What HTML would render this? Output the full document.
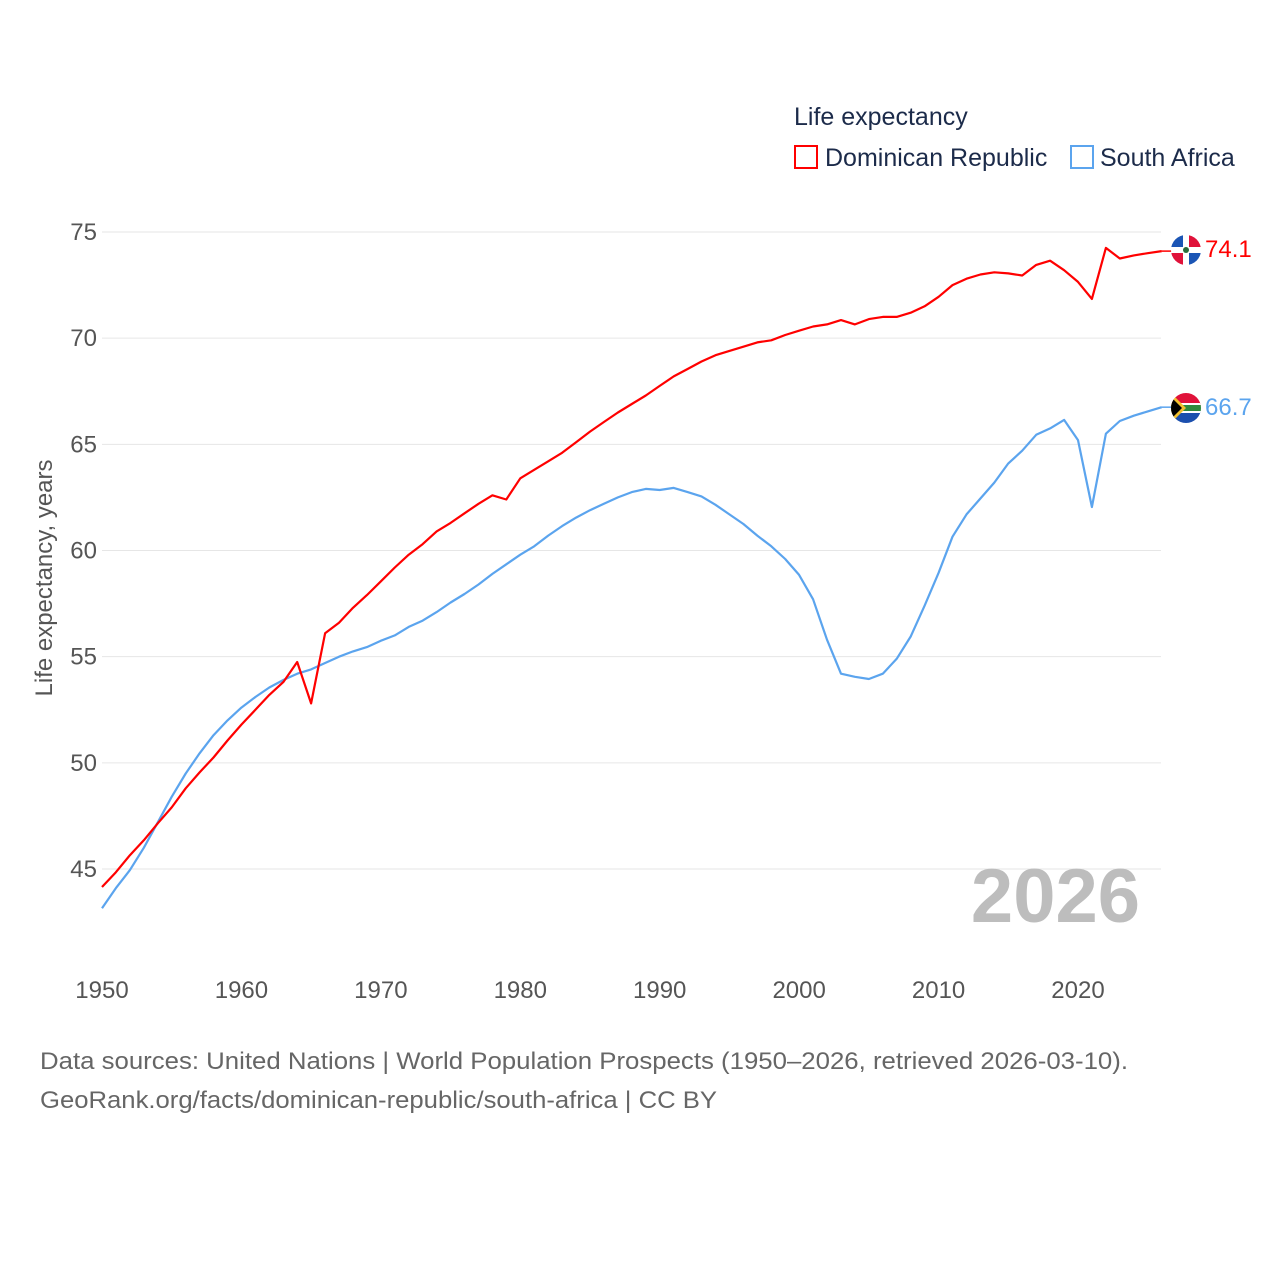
<!DOCTYPE html>
<html><head><meta charset="utf-8"><style>
body{margin:0;background:#fff;font-family:"Liberation Sans",sans-serif}
svg{display:block}
</style></head><body>
<svg width="1280" height="1280" viewBox="0 0 1280 1280">
<g id="grid"></g>
<g id="yticks"></g>
<g id="xticks"></g>
<text x="52" y="578" transform="rotate(-90 52 578)" text-anchor="middle" font-size="24" fill="#555">Life expectancy, years</text>
<text x="1140" y="922" text-anchor="end" font-size="76" font-weight="bold" fill="#bdbdbd">2026</text>
<g id="series"></g>
<g>
<text x="794" y="125" font-size="25" fill="#1c2b4a">Life expectancy</text>
<g>
<rect x="795" y="146" width="22" height="22" fill="none" stroke="#ff0000" stroke-width="2"/>
<text x="825" y="166" font-size="25" fill="#1c2b4a">Dominican Republic</text></g>
<g>
<rect x="1071" y="146" width="22" height="22" fill="none" stroke="#5ba4ee" stroke-width="2"/>
<text x="1100" y="166" font-size="25" fill="#1c2b4a">South Africa</text></g>
</g>
<g>
<clipPath id="c1"><circle cx="1186" cy="250" r="15"/></clipPath>
<g clip-path="url(#c1)"><rect x="1171" y="235" width="30" height="30" fill="#fff"/>
<rect x="1171" y="235" width="12" height="12" fill="#1b55b5"/><rect x="1189" y="235" width="12" height="12" fill="#e0123a"/>
<rect x="1171" y="253" width="12" height="12" fill="#e0123a"/><rect x="1189" y="253" width="12" height="12" fill="#1b55b5"/>
<circle cx="1186" cy="250" r="3" fill="#2a6b3a"/></g></g>
<g>
<clipPath id="c2"><circle cx="1186" cy="408" r="15"/></clipPath>
<g clip-path="url(#c2)"><rect x="1171" y="393" width="30" height="15" fill="#e0123a"/>
<rect x="1171" y="408" width="30" height="15" fill="#1b4fae"/>
<rect x="1171" y="403" width="30" height="10" fill="#fff"/>
<rect x="1171" y="405" width="30" height="6" fill="#2f8a3c"/>
<polygon points="1171,393 1186,408 1171,423" fill="#f2c02e"/>
<polygon points="1171,397 1182,408 1171,419" fill="#000"/></g></g>
<text x="1205" y="257" font-size="24" fill="#ff0000">74.1</text>
<text x="1205" y="415" font-size="24" fill="#5ba4ee">66.7</text>
<g font-size="24" fill="#666">
<text x="40" y="1069" textLength="1088" lengthAdjust="spacingAndGlyphs">Data sources: United Nations | World Population Prospects (1950–2026, retrieved 2026-03-10).</text>
<text x="40" y="1108" textLength="677" lengthAdjust="spacingAndGlyphs">GeoRank.org/facts/dominican-republic/south-africa | CC BY</text>
</g>
</svg>
<script>
const years=[];for(let y=1950;y<=2026;y++)years.push(y);
const yTicks=[45,50,55,60,65,70,75];
const xTicks=[1950,1960,1970,1980,1990,2000,2010,2020];
const domRep=[44.15,44.85,45.65,46.35,47.15,47.9,48.8,49.55,50.25,51.05,51.8,52.5,53.2,53.8,54.75,52.8,56.1,56.6,57.3,57.9,58.55,59.2,59.8,60.3,60.9,61.3,61.75,62.2,62.6,62.4,63.4,63.8,64.2,64.6,65.1,65.6,66.05,66.5,66.9,67.3,67.75,68.2,68.55,68.9,69.2,69.4,69.6,69.8,69.9,70.15,70.35,70.55,70.65,70.85,70.65,70.9,71.0,71.0,71.2,71.5,71.95,72.5,72.8,73.0,73.1,73.05,72.95,73.45,73.65,73.2,72.65,71.85,74.25,73.75,73.9,74.0,74.1];
const southAfrica=[43.15,44.1,44.95,46.0,47.2,48.4,49.5,50.45,51.3,52.0,52.6,53.1,53.55,53.9,54.2,54.4,54.7,55.0,55.25,55.45,55.75,56.0,56.4,56.7,57.1,57.55,57.95,58.4,58.9,59.35,59.8,60.2,60.7,61.15,61.55,61.9,62.2,62.5,62.75,62.9,62.85,62.95,62.75,62.55,62.15,61.7,61.25,60.7,60.2,59.6,58.85,57.7,55.8,54.2,54.05,53.95,54.2,54.9,55.95,57.4,58.95,60.65,61.7,62.45,63.2,64.1,64.7,65.45,65.75,66.15,65.2,62.05,65.5,66.1,66.35,66.55,66.75];
const NS="http://www.w3.org/2000/svg";
const xs=y=>102+(y-1950)*(1078-102)/70;
const ys=v=>232+(75-v)*(869-232)/30;
function mk(t,a,p){const e=document.createElementNS(NS,t);for(const k in a)e.setAttribute(k,a[k]);p.appendChild(e);return e;}
const grid=document.getElementById('grid'),yt=document.getElementById('yticks'),xt=document.getElementById('xticks'),ser=document.getElementById('series');
yTicks.forEach(v=>{
 const l=mk('line',{x1:102,x2:1161,y1:ys(v),y2:ys(v),stroke:'#e6e6e6','stroke-width':1},grid);
 
 
 const t=mk('text',{x:97,y:ys(v)+8,'text-anchor':'end','font-size':24,fill:'#555'},yt);t.textContent=v;
 
 
});
xTicks.forEach(v=>{
 const t=mk('text',{x:xs(v),y:998,'text-anchor':'middle','font-size':24,fill:'#555'},xt);t.textContent=v;
 
 
});
function line(d,c,name){
 const pts=d.map((v,i)=>xs(years[i]).toFixed(1)+','+ys(v).toFixed(1)).join(' ');
 const p=mk('polyline',{points:pts,fill:'none',stroke:c,'stroke-width':2.2,'stroke-linejoin':'round'},ser);
 
 
 const last=d[d.length-1];
 const s=mk('line',{x1:xs(years[years.length-1]),x2:1172,y1:ys(last),y2:ys(last),stroke:c,'stroke-width':1.5},ser);
 
 
}
line(southAfrica,'#5ba4ee','line-south-africa');
line(domRep,'#ff0000','line-dominican-republic');
</script>
</body></html>
